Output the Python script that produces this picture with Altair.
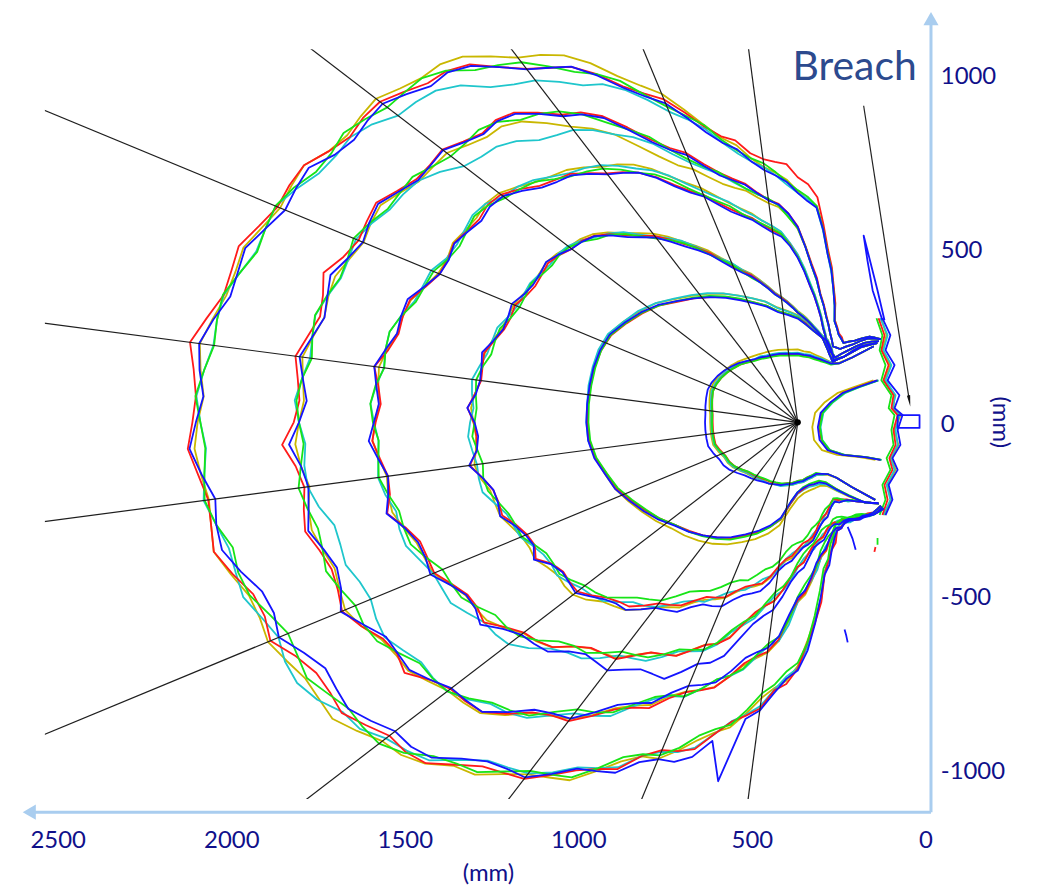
import math
import altair as alt
import pandas as pd

# ---------------- axes / layout values (mm) ----------------
X_DOMAIN = [-14, 2537]
Y_DOMAIN = [-1080, 1080]
X_TICKS = [0, 500, 1000, 1500, 2000, 2500]
Y_TICKS = [-1000, -500, 0, 500, 1000]

# centre of the ray fan (mm)
CENTER_X, CENTER_Y = 368, 5
RAY_ANGLES = [-82.5, -67.5, -52.5, -37.5, -22.5, -7.5, 7.5, 22.5, 37.5, 52.5, 67.5, 82.5]
RAY_LENGTH = 4000

# angle grid (deg, 0 = towards +x, 90 = up) on which the contour radii were read
ANGLES = [-135, -130, -125, -120, -115, -110, -105, -100, -95, -90, -85,
          -80, -75, -70, -65, -60, -55, -50, -45, -40, -35, -30,
          -25, -20, -15, -10, -5, 0, 5, 10, 15, 20, 25,
          30, 35, 40, 45, 50, 55, 60, 65, 70, 75, 80,
          85, 90, 95, 100, 105, 110, 115, 120, 125, 130, 135]

# base radius (mm) of each contour group, measured from the fan centre
BASE = {
    1: [316, 244, 195, 172, 164, 158, 161, 164, 170, 172, 178,
        181, 187, 190, 195, 198, 204, 210, 216, 227, 239, 247,
        250, 259, 267, 267, 267, 267, 267, 270, 273, 276, 273,
        267, 259, 250, 241, 230, 221, 216, 210, 207, 204, 201,
        198, 198, 195, 195, 193, 193, 193, 195, 207, 244, 310],
    2: [331, 302, 259, 224, 195, 184, 184, 184, 190, 201, 230,
        279, 308, 333, 356, 382, 405, 425, 445, 463, 489, 512,
        535, 560, 575, 595, 606, 609, 609, 609, 609, 606, 598,
        575, 552, 526, 494, 466, 440, 414, 388, 365, 345, 322,
        310, 299, 282, 267, 256, 250, 230, 207, 230, 282, 325],
    3: [328, 299, 276, 259, 247, 262, 282, 310, 339, 362, 391,
        445, 480, 509, 549, 583, 632, 681, 724, 770, 799, 816,
        839, 868, 897, 925, 931, 934, 934, 925, 908, 885, 868,
        854, 839, 810, 762, 696, 638, 575, 512, 460, 417, 374,
        345, 316, 296, 276, 259, 236, 216, 201, 230, 287, 322],
    4: [339, 339, 328, 316, 305, 302, 316, 339, 368, 408, 474,
        526, 589, 667, 713, 762, 810, 862, 908, 977, 1029, 1069,
        1106, 1144, 1178, 1201, 1213, 1221, 1216, 1201, 1178, 1141, 1109,
        1098, 1086, 1040, 983, 934, 877, 813, 733, 670, 618, 575,
        540, 474, 397, 336, 282, 244, 224, 216, 253, 299, 331],
    5: [345, 345, 331, 322, 316, 319, 345, 382, 445, 503, 618,
        675, 747, 810, 862, 934, 1020, 1092, 1178, 1242, 1288, 1328,
        1380, 1400, 1414, 1431, 1437, 1437, 1434, 1423, 1408, 1385, 1365,
        1328, 1288, 1250, 1221, 1155, 1078, 969, 862, 782, 719, 667,
        627, 560, 454, 374, 316, 273, 241, 244, 273, 316, 339],
    6: [351, 345, 325, 316, 310, 322, 368, 431, 560, 690, 753,
        833, 905, 986, 1040, 1135, 1221, 1293, 1365, 1451, 1500, 1538,
        1575, 1609, 1661, 1696, 1716, 1724, 1722, 1704, 1667, 1632, 1598,
        1546, 1517, 1471, 1423, 1331, 1242, 1150, 1035, 934, 833, 762,
        713, 661, 621, 494, 397, 310, 279, 264, 287, 322, 339],
}

# per-run deviation (mm) from the base radius at the grid angles; a missing run follows the base
DEV = {
    1: {
        "yellow": [0, 0, 0, 3, 3, 3, 3, 3, 3, 3, 3, 3, 0, 0, 0, -3, -5, -6, -8, -10, -12, -14,
                   -15, -15, -15, -15, -15, -15, -14, -12, -10, -8, -5, -3, 0, 3, 5, 8, 10, 10, 12, 12, 12, 12,
                   12, 12, 10, 10, 8, 6, 5, 3, 3, 0, 0],
        "cyan": [0, 0, 0, 0, 3, 3, 3, 3, 3, 3, 3, 3, 3, 0, 0, -3, -6, -8, -10, -12, -14, -16,
                 -17, -18, -18, -18, -18, -18, -17, -16, -14, -12, -10, -8, -6, -4, -2, 0, 0, 3, 3, 3, 3, 3,
                 3, 3, 3, 3, 3, 3, 3, 3, 0, 0, 0],
        "red": [0, 0, 0, 0, 0, 0, -3, -3, -3, -3, -3, -3, -3, -5, -6, -8, -10, -12, -14, -16, -18, -20,
                -21, -22, -22, -22, -22, -22, -21, -20, -18, -16, -14, -12, -10, -8, -6, -5, -3, -3, -3, -3, -3, -3,
                -3, -3, -3, -3, -3, -3, 0, 0, 0, 0, 0],
        "green": [0, 0, 0, 0, 0, -3, -3, -3, -3, -3, -3, -3, -5, -6, -8, -10, -12, -14, -15, -16, -18, -19,
                  -20, -20, -20, -20, -20, -20, -20, -19, -18, -16, -14, -12, -10, -8, -6, -5, -5, -5, -5, -5, -5, -5,
                  -5, -5, -5, -5, -5, -5, -3, -3, 0, 0, 0],
    },
    2: {
        "yellow": [0, 0, 3, 5, 8, 10, 12, 15, 15, 18, 20, 22, 24, 25, 25, 24, 22, 20, 16, 12, 8, 5,
                   3, 0, 0, -3, -3, -3, -3, 0, 0, 3, 3, 5, 5, 8, 8, 10, 12, 14, 15, 15, 15, 14,
                   12, 10, 8, 6, 5, 3, 3, 3, 0, 0, 0],
        "cyan": [0, 0, 0, 3, 3, 5, 5, 5, 5, 5, 5, 5, 5, 5, 3, 3, 3, 0, 0, -3, -3, -5,
                 -5, -5, -3, -3, 0, 0, 0, 3, 3, 5, 5, 5, 8, 8, 10, 12, 14, 15, 15, 15, 15, 12,
                 10, 8, 6, 5, 5, 3, 3, 3, 0, 0, 0],
        "red": [0, 0, 0, -3, -3, -3, 0, 0, 3, 3, 5, 5, 5, 5, 3, 3, 0, 0, -3, -3, -5, -5,
                -5, -5, -5, -3, -3, -3, -3, -3, -3, -3, -5, -5, -5, -3, -3, 0, 0, 3, 3, 3, 3, 3,
                3, 3, 3, 0, 0, 0, 0, 0, 0, 0, 0],
        "green": [0, 0, -3, -3, -5, -5, -5, -3, -3, 0, 0, 3, 5, 8, 8, 8, 5, 3, 0, -3, -5, -8,
                  -8, -8, -6, -6, -6, -6, -5, -5, -5, -3, -3, -3, -3, -3, 0, 3, 5, 5, 5, 3, 3, 3,
                  3, 3, 0, 0, 0, 0, 0, 0, 0, 0, 0],
    },
    3: {
        "yellow": [0, 0, 0, 3, 5, 8, 10, 10, 10, 10, 10, 10, 10, 12, 14, 16, 18, 22, 25, 25, 22, 18,
                   14, 10, 6, 3, 0, 0, 0, 0, 3, 3, 5, 5, 8, 10, 12, 15, 15, 12, 10, 8, 8, 6,
                   5, 5, 5, 3, 3, 3, 3, 0, 0, 0, 0],
        "cyan": [0, 0, 0, 0, 3, 3, 5, 5, 5, 5, 5, 5, 5, 8, 8, 10, 10, 8, 8, 5, 5, 3,
                 3, 3, 6, 8, 10, 10, 8, 6, 3, 3, 3, 3, 5, 5, 8, 10, 10, 10, 8, 8, 6, 5,
                 5, 3, 3, 3, 3, 0, 0, 0, 0, 0, 0],
        "red": [0, 0, 0, -3, -3, 0, 0, 3, 3, 3, 5, 5, 5, 8, 8, 10, 10, 8, 6, 5, 3, 0,
                -3, -5, -5, -3, -3, 0, 0, -3, -3, -5, -5, -3, 0, 3, 5, 5, 5, 5, 3, 3, 3, 3,
                3, 0, 0, 0, 0, 0, 0, 0, 0, 0, 0],
        "green": [0, 0, -3, -3, -5, -5, -8, -10, -12, -15, -18, -22, -25, -25, -25, -22, -20, -15, -10, -8, -5, -3,
                  -3, -3, -5, -5, -5, -3, -3, -3, -5, -5, -3, -3, 0, 0, 3, 3, 3, 3, 3, 0, 0, 0,
                  0, 0, 0, 0, 0, 0, 0, 0, 0, 0, 0],
        "blue": [0, 0, 0, 3, 5, 8, 10, 12, 14, 16, 20, 25, 30, 35, 35, 32, 28, 22, 15, 10, 5, 3,
                 0, 0, -3, -3, -3, -3, -3, 0, 0, 3, 3, 3, 3, 0, 0, 0, -3, -3, -3, -3, 0, 0,
                 0, 0, 0, 0, 0, 0, 0, 0, 0, 0, 0],
    },
    4: {
        "yellow": [0, 0, 3, 5, 5, 5, 5, 8, 8, 10, 10, 10, 12, 12, 10, 10, 8, 8, 5, 5, 3, 3,
                   0, 0, -3, -3, -3, -3, -3, 0, 0, 3, 5, 8, 12, 15, 20, 25, 30, 30, 28, 25, 20, 15,
                   10, 8, 5, 5, 3, 3, 3, 0, 0, 0, 0],
        "cyan": [0, 0, 3, 3, 5, 5, 8, 8, 10, 10, 12, 12, 15, 15, 15, 18, 20, 25, 30, 35, 35, 30,
                 25, 15, 10, 5, 0, 0, 3, 5, 5, 8, 8, 10, 12, 15, 18, 22, 25, 25, 25, 22, 18, 15,
                 12, 10, 8, 5, 5, 3, 3, 0, 0, 0, 0],
        "red": [0, 0, 0, 3, 3, 5, 5, 5, 8, 8, 10, 10, 10, 12, 12, 10, 10, 8, 5, 3, 0, -3,
                -5, -8, -8, -8, -5, -5, -3, -3, 0, 0, 3, 3, 5, 5, 5, 3, 3, 3, 3, 3, 3, 3,
                3, 3, 0, 0, 0, 0, 0, 0, 0, 0, 0],
        "green": [0, 0, -3, -3, -5, -5, -5, -5, -5, -3, 0, 3, 5, 8, 10, 10, 8, 5, 3, 0, -3, -5,
                  -5, -5, -3, -3, 0, 3, 5, 5, 5, 3, 3, 3, 3, 5, 8, 10, 12, 12, 10, 8, 5, 5,
                  5, 3, 3, 3, 0, 0, 0, 0, 0, 0, 0],
        "blue": [0, 0, 3, 5, 8, 10, 15, 15, 20, 25, 30, 40, 55, 70, 80, 75, 60, 40, 25, 15, 8, 3,
                 0, -3, -5, -3, 0, 0, 3, 5, 5, 3, 0, 0, -3, -3, -3, 0, 0, 0, -3, -3, -3, -3,
                 -3, 0, 0, 0, 0, 0, 0, 0, 0, 0, 0],
    },
    5: {
        "yellow": [0, 0, 0, 3, 5, 8, 10, 12, 15, 15, 15, 15, 12, 10, 8, 8, 10, 12, 15, 15, 12, 10,
                   8, 5, 3, 0, 0, 0, -3, -5, -8, -10, -8, -5, -5, -8, -15, -30, -45, -50, -45, -30, -20, -10,
                   -5, -3, 0, 0, 0, 0, 0, 0, 0, 0, 0],
        "cyan": [0, 0, 0, 3, 3, 5, 8, 10, 12, 15, 15, 12, 10, 8, 8, 10, 12, 10, 5, 0, -5, -15,
                 -40, -57, -50, -30, -10, 0, 0, -3, -5, -8, -10, -15, -30, -60, -75, -75, -50, -20, -10, -5, -3, 0,
                 0, 0, 0, 0, 0, 0, 0, 0, 0, 0, 0],
        "red": [0, 0, 0, 3, 3, 5, 5, 8, 8, 10, 10, 10, 10, 12, 15, 15, 12, 10, 10, 8, 5, 5,
                8, 10, 12, 14, 15, 15, 12, 10, 8, 8, 5, 5, 5, 8, 10, 10, 12, 12, 10, 10, 8, 5,
                5, 5, 5, 3, 3, 0, 0, 0, 0, 0, 0],
        "green": [0, 0, -3, -3, -3, -5, -5, -5, -3, 0, 3, 5, 8, 8, 5, 3, 0, -3, -5, -5, -3, 0,
                  0, 3, 3, 3, 0, 0, 0, -3, -3, -5, -5, -5, -3, 0, 3, 5, 5, 5, 3, 0, 0, 0,
                  0, 0, 0, 0, 0, 0, 0, 0, 0, 0, 0],
        "blue": [0, 0, 3, 3, 5, 5, 5, 5, 3, 3, 0, -3, -5, -5, -3, 0, 0, 3, 3, 5, 5, 3,
                 0, 0, 0, 0, 0, 0, -3, -3, -5, -5, -3, 0, 3, 5, 5, 5, 5, 3, 3, 3, 3, 3,
                 3, 3, 0, 0, 0, 0, 0, 0, 0, 0, 0],
    },
    6: {
        "yellow": [0, 0, 3, 3, 5, 5, 8, 8, 10, 12, 15, 18, 20, 20, 22, 25, 28, 30, 35, 40, 50, 55,
                   50, 40, 30, 20, 10, 5, 5, 8, 10, 10, 12, 15, 20, 25, 35, 45, 50, 45, 35, 25, 15, 10,
                   8, 5, 5, 3, 3, 3, 0, 0, 0, 0, 0],
        "cyan": [0, 0, 0, 3, 5, 8, 10, 12, 15, 18, 20, 22, 25, 25, 20, 15, 10, 5, 10, 20, 40, 60,
                 55, 35, 15, 5, 0, -3, -5, -5, -3, 0, -5, -10, -20, -35, -50, -60, -45, -25, -10, -5, 0, 0,
                 0, 0, 0, 0, 0, 0, 0, 0, 0, 0, 0],
        "red": [0, 0, 3, 5, 8, 10, 12, 15, 18, 20, 22, 25, 25, 22, 20, 18, 20, 25, 30, 25, 20, 18,
                20, 25, 25, 20, 18, 20, 25, 25, 22, 20, 18, 15, 12, 10, 8, 5, 5, 8, 10, 15, 20, 25,
                40, 45, 30, 10, 5, 3, 3, 0, 0, 0, 0],
        "green": [0, 0, -3, -3, -5, -5, -5, -3, 0, 3, 5, 8, 10, 12, 15, 15, 18, 20, 25, 30, 30, 25,
                  15, 10, 8, 5, 0, -3, -5, -5, -3, 0, 3, 5, 5, 8, 10, 12, 10, 8, 5, 5, 8, 10,
                  10, 8, 5, 3, 0, 0, 0, 0, 0, 0, 0],
        "blue": [0, 0, 3, 5, 8, 10, 12, 15, 20, 25, 30, 35, 45, 55, 40, 25, 15, 10, 5, 3, 0, -3,
                 -5, -3, 0, 5, 8, 10, 8, 5, 3, 0, -3, -5, -3, 0, 3, 5, 5, 3, 0, 0, 0, 0,
                 0, 0, 0, 0, 0, 0, 0, 0, 0, 0, 0],
    },
}

# jagged excursions (mm) read half-way between neighbouring grid angles
TEETH = {
    3: {
        "yellow": [0, 0, 0, 3, -3, 3, -3, 3, -3, 5, -5, 5, -5, 5, -5, 8, -5, 8, -8, 8,
                   -8, 10, -5, 8, -8, 10, -5, 8, -8, 5, -5, 5, -5, 5, -3, 5, -3, 3, -3, 3,
                   0, 3, 0, 0, 0, 0, 0, 0, 0, 0, 0, 0, 0, 0],
        "cyan": [0, 0, 3, -3, 3, -3, 3, -3, 5, -3, 5, -5, 5, -5, 8, -5, 5, -8, 8, -5,
                 10, -5, 8, -8, 12, -5, 8, -8, 10, -5, 8, -5, 5, -5, 5, -3, 5, -3, 3, -3,
                 3, 0, 0, 0, 0, 0, 0, 0, 0, 0, 0, 0, 0, 0],
        "red": [0, 0, -3, 3, -3, 3, -5, 5, -5, 5, -5, 8, -5, 8, -8, 8, -8, 10, -5, 12,
                -8, 25, -5, 15, -8, 28, -5, 18, -8, 12, -5, 10, -5, 8, -5, 5, -3, 5, -3, 3,
                -3, 3, 0, 0, 0, 0, 0, 0, 0, 0, 0, 0, 0, 0],
        "green": [0, 0, 3, -3, 3, -3, 3, -5, 5, -5, 5, -5, 8, -5, 5, -8, 8, -5, 8, -5,
                  10, -8, 10, -5, 8, -8, 10, -5, 8, -8, 8, -5, 8, -5, 5, -5, 3, -3, 3, -3,
                  3, -3, 0, 0, 0, 0, 0, 0, 0, 0, 0, 0, 0, 0],
        "blue": [0, 0, -3, 3, -3, 5, -3, 5, -5, 5, -8, 8, -5, 10, -8, 10, -8, 12, -5, 15,
                 -8, 28, -5, 18, -10, 30, -8, 22, -5, 15, -8, 12, -5, 10, -5, 8, -5, 5, -3, 3,
                 -3, 3, 0, 0, 0, 0, 0, 0, 0, 0, 0, 0, 0, 0],
    },
    4: {
        "yellow": [0, 0, 3, -3, 3, -3, 5, -5, 5, -5, 8, -5, 8, -8, 10, -8, 10, -8, 12, -10,
                   10, -10, 12, -8, 10, -10, 12, -8, 10, -8, 8, -8, 10, -5, 8, -5, 5, -5, 5, -3,
                   3, -3, 3, 0, 0, 0, 0, 0, 0, 0, 0, 0, 0, 0],
        "cyan": [0, 3, -3, 3, -3, 3, -5, 5, -5, 5, -8, 8, -10, 8, -10, 10, -12, 10, -10, 12,
                 -10, 12, -8, 10, -12, 10, -8, 12, -10, 10, -8, 10, -5, 8, -8, 5, -5, 5, -3, 3,
                 -3, 3, 0, 0, 0, 0, 0, 0, 0, 0, 0, 0, 0, 0],
        "red": [0, -3, 3, -3, 5, -5, 5, -5, 8, -5, 10, -8, 12, -8, 10, -10, 15, -10, 12, -10,
                25, -10, 15, -12, 30, -10, 15, -12, 25, -10, 12, -10, 10, -8, 10, -8, 8, -5, 5, -5,
                5, -3, 3, -3, 3, 0, 0, 0, 0, 0, 0, 0, 0, 0],
        "green": [0, 3, -3, 3, -3, 5, -5, 3, -5, 5, -8, 10, -8, 10, -10, 8, -10, 12, -10, 10,
                  -12, 10, -12, 12, -10, 12, -10, 10, -12, 10, -10, 8, -8, 10, -5, 8, -5, 5, -5, 3,
                  -3, 3, -3, 0, 0, 0, 0, 0, 0, 0, 0, 0, 0, 0],
        "blue": [0, 0, 3, -3, 5, -5, 5, -8, 8, -8, 10, -10, 15, -12, 18, -10, 15, -12, 15, -10,
                 30, -12, 22, -10, 28, -15, 20, -12, 18, -12, 15, -10, 12, -10, 10, -8, 8, -5, 8, -5,
                 5, -5, 3, -3, 3, 0, 0, 0, 0, 0, 0, 0, 0, 0],
    },
    5: {
        "yellow": [0, 0, 3, -3, 3, -5, 5, -3, 8, -5, 8, -8, 10, -5, 12, -10, 10, -12, 15, -8,
                   12, -10, 15, -12, 10, -15, 12, -10, 15, -12, 10, -12, 15, -10, 12, -8, 10, -5, 8, -5,
                   5, -5, 5, -3, 3, 0, 3, 0, 0, 0, 0, 0, 0, 0],
        "cyan": [0, 3, -3, 3, -3, 5, -5, 5, -5, 8, -10, 8, -10, 12, -8, 15, -10, 12, -12, 10,
                 -12, 15, -10, 12, -15, 10, -12, 15, -10, 12, -10, 12, -8, 10, -12, 8, -10, 8, -5, 5,
                 -5, 3, -3, 3, 0, 0, 0, 0, 0, 0, 0, 0, 0, 0],
        "red": [0, -3, 3, -5, 5, -3, 8, -5, 8, -8, 10, -10, 12, -8, 15, -10, 18, -12, 15, -10,
                30, -12, 22, -10, 18, -15, 35, -12, 20, -15, 28, -12, 18, -10, 15, -12, 12, -10, 10, -8,
                8, -5, 5, -5, 3, -3, 3, 0, 0, 0, 0, 0, 0, 0],
        "green": [0, 3, -3, 3, -5, 5, -3, 8, -5, 5, -8, 10, -10, 12, -10, 12, -12, 15, -10, 12,
                  -15, 12, -12, 15, -10, 15, -12, 10, -15, 12, -10, 15, -10, 12, -8, 10, -10, 8, -5, 8,
                  -5, 5, -3, 3, -3, 0, 0, 0, 0, 0, 0, 0, 0, 0],
        "blue": [0, 0, 3, -3, 5, -5, 5, -8, 8, -8, 10, -12, 12, -10, 15, -12, 18, -15, 20, -12,
                 15, -18, 35, -15, 22, -12, 30, -18, 22, -15, 20, -15, 18, -12, 15, -12, 12, -10, 12, -8,
                 8, -8, 5, -5, 5, -3, 3, 0, 0, 0, 0, 0, 0, 0],
    },
    6: {
        "yellow": [0, 0, 3, -3, 5, -3, 5, 8, -5, 10, -8, 12, -5, 15, -10, 18, -8, 15, 10, -12,
                   18, -10, 15, -12, 20, -10, 12, -15, 18, -8, 15, -12, 18, -10, 15, -8, 12, -10, 10, -8,
                   10, -5, 8, -5, 5, -3, 3, 0, 3, 0, 0, 3, 0, 0],
        "cyan": [0, 3, -3, 3, -5, 5, -3, 8, 5, -8, 10, -10, 12, -8, 15, -12, 10, -15, 18, -10,
                 -15, 12, -18, 15, -10, 18, -12, 15, -10, 12, -12, 15, -10, 12, -15, 10, -12, 8, -10, 5,
                 -8, 5, -5, 3, -3, 3, 0, 0, 0, 0, 0, 0, 0, 0],
        "red": [0, -3, 3, -3, 5, 8, -5, 10, -8, 12, 15, -10, 18, -12, 20, -8, 15, -12, 18, -15,
                20, -12, 30, -15, 22, -12, 20, -10, 28, -15, 18, -12, 15, -15, 12, -10, 15, -8, 12, -10,
                10, -8, 12, -5, 15, 8, -5, 3, 3, 0, 3, 0, 0, 0],
        "green": [0, 3, -3, 5, -3, 3, 8, -5, 10, -8, -12, 15, -10, 12, -15, 18, -10, 15, -12, 15,
                  -12, 18, -15, 12, -18, 15, -10, 18, -12, 15, -15, 12, -12, 15, -10, 12, -12, 10, -8, 10,
                  -5, 8, -5, 5, -3, 3, 0, 3, 0, 0, 0, 0, 0, 0],
        "blue": [0, 0, 3, -3, 5, -5, 8, -5, 10, -10, 12, 150, 15, -10, 18, -15, 20, -12, 18, -15,
                 18, -18, 30, -15, 18, -20, 25, -18, 20, -15, 18, -15, 20, -12, 15, -15, 12, -10, 15, -8,
                 10, -8, 8, -5, 5, -3, 3, 3, 0, 0, 0, 0, 0, 0],
    },
}

# breach-side traces (mm)
U_Y = [126, 106, 89, 63, 32, -9, -46, -75, -89, -95, -103]
U_X = {
    "yellow": [150, 208, 254, 290, 318, 326, 321, 298, 254, 190, 144],
    "cyan": [135, 190, 232, 266, 294, 302, 297, 275, 232, 170, 126],
    "red": [140, 197, 240, 272, 299, 306, 300, 278, 236, 172, 130],
    "green": [136, 192, 235, 268, 296, 304, 298, 276, 234, 171, 127],
    "blue": [138, 195, 239, 273, 302, 310, 305, 282, 239, 175, 129],
}
BAND_Y = [305, 256, 213, 170, 126, 83, 46, 26, -17, -60, -98, -132, -175, -218, -262]
BAND_X = {
    "yellow": [127, 112, 124, 101, 118, 89, 92, 72, 89, 78, 98, 86, 109, 98, 118],
    "cyan": [130, 109, 121, 98, 115, 86, 95, 75, 86, 80, 101, 89, 112, 101, 121],
    "red": [135, 118, 127, 106, 121, 92, 98, 80, 92, 86, 104, 95, 118, 109, 124],
    "green": [141, 124, 132, 115, 127, 98, 106, 89, 98, 92, 112, 101, 124, 115, 132],
    "blue": [124, 101, 115, 89, 109, 75, 89, 66, 80, 72, 95, 80, 106, 95, 115],
}
EXTRA_TRACES = [
    ("opening", "blue", [80, 17, 17, 80, 80], [26, 26, -11, -11, 26]),
    ("spike", "blue", [124, 152, 167, 178, 167, 138, 118], [299, 385, 471, 543, 500, 385, 299]),
    ("blob1", "blue", [224, 210, 201], [-296, -330, -362]),
    ("blob2", "blue", [233, 228, 224], [-592, -610, -629]),
    ("blob3", "green", [138, 138], [-328, -348]),
    ("blob4", "red", [144, 147], [-354, -368]),
]

# annotations (mm)
BREACH_LABEL = (204, 1026)
BREACH_ARROW = [(178, 917), (47, 72)]
X_TITLE_POS = (1259, -1296)
Y_TITLE_POS = (-216, 5)
AXIS_Y_LINE = -1118
AXIS_X_LINE = -16
AXIS_X_END = 2582
AXIS_Y_END = 1168

COLORS = {"yellow": "#c9b700", "cyan": "#1fc6cc", "red": "#ff1a1a",
          "green": "#17e417", "blue": "#1414ff"}
DRAW_ORDER = ["yellow", "cyan", "red", "green", "blue"]
NAVY = "#10108a"
AXIS_COLOR = "#a9cdef"

# ---------------- build tables ----------------
for g, base in BASE.items():
    assert len(base) == len(ANGLES), (g, len(base))
    for c, d in DEV[g].items():
        assert len(d) == len(ANGLES), (g, c, len(d))
for g, tt in TEETH.items():
    for c, t in tt.items():
        assert len(t) == len(ANGLES) - 1, (g, c, len(t))


def polar(r, a):
    t = math.radians(a)
    return CENTER_X + r * math.cos(t), CENTER_Y + r * math.sin(t)


rows = []
for g, base in BASE.items():
    for c in DRAW_ORDER:
        dev = DEV[g].get(c)
        teeth = TEETH.get(g, {}).get(c)
        radii = [rb + (dev[i] if dev else 0) for i, rb in enumerate(base)]
        k = 0
        for i, a in enumerate(ANGLES):
            x, y = polar(radii[i], a)
            rows.append({"line": f"g{g}-{c}", "color": c, "i": k, "x": x, "y": y})
            k += 1
            if teeth and i < len(ANGLES) - 1:
                am = (a + ANGLES[i + 1]) / 2
                rm = (radii[i] + radii[i + 1]) / 2 + teeth[i]
                x, y = polar(rm, am)
                rows.append({"line": f"g{g}-{c}", "color": c, "i": k, "x": x, "y": y})
                k += 1
for c in DRAW_ORDER:
    for i, (x, y) in enumerate(zip(U_X[c], U_Y)):
        rows.append({"line": f"u-{c}", "color": c, "i": i, "x": x, "y": y})
    for i, (x, y) in enumerate(zip(BAND_X[c], BAND_Y)):
        rows.append({"line": f"band-{c}", "color": c, "i": i, "x": x, "y": y})
for name, c, xs, ys in EXTRA_TRACES:
    for i, (x, y) in enumerate(zip(xs, ys)):
        rows.append({"line": name, "color": c, "i": i, "x": x, "y": y})
traces = pd.DataFrame(rows)

rays = pd.DataFrame([{"x": CENTER_X, "y": CENTER_Y,
                      "x2": polar(RAY_LENGTH, a)[0], "y2": polar(RAY_LENGTH, a)[1]} for a in RAY_ANGLES])

x_enc = alt.X("x:Q", title=None,
              scale=alt.Scale(domain=X_DOMAIN, reverse=True, nice=False, zero=False),
              axis=alt.Axis(values=X_TICKS, grid=False, domain=False, ticks=False,
                            labelFont="Lato", labelFontSize=24, labelColor=NAVY,
                            labelPadding=42, labelBaseline="middle", labelFlush=False,
                            labelExpr="'' + datum.value"))
y_enc = alt.Y("y:Q", title=None,
              scale=alt.Scale(domain=Y_DOMAIN, nice=False, zero=False),
              axis=alt.Axis(orient="right", values=Y_TICKS, grid=False, domain=False, ticks=False,
                            labelFont="Lato", labelFontSize=24, labelColor=NAVY,
                            labelPadding=10, labelAlign="left", labelFlush=False,
                            labelExpr="'' + datum.value"))

layers = []
for c in DRAW_ORDER:
    layers.append(
        alt.Chart(traces).transform_filter(alt.datum.color == c)
        .mark_line(clip=True, color=COLORS[c], strokeWidth=1.8, strokeJoin="round")
        .encode(x=x_enc, y=y_enc, detail="line:N", order="i:Q")
    )

layers.append(
    alt.Chart(rays).mark_rule(clip=True, color="#1e1e1e", strokeWidth=1.2)
    .encode(x=x_enc, y=y_enc, x2="x2:Q", y2="y2:Q")
)
layers.append(
    alt.Chart(pd.DataFrame({"x": [CENTER_X], "y": [CENTER_Y]}))
    .mark_point(filled=True, color="black", size=40, opacity=1)
    .encode(x=x_enc, y=y_enc)
)

# Breach annotation
arrow = pd.DataFrame({"x": [BREACH_ARROW[0][0]], "y": [BREACH_ARROW[0][1]],
                      "x2": [BREACH_ARROW[1][0]], "y2": [BREACH_ARROW[1][1]]})
layers.append(alt.Chart(arrow).mark_rule(color="#222222", strokeWidth=1.2, clip=False)
              .encode(x=x_enc, y=y_enc, x2="x2:Q", y2="y2:Q"))
layers.append(alt.Chart(pd.DataFrame({"x": [BREACH_ARROW[1][0]], "y": [BREACH_ARROW[1][1]]}))
              .mark_point(shape="wedge", angle=171, filled=True, color="#111111", size=170, opacity=1, clip=False)
              .encode(x=x_enc, y=y_enc))
layers.append(alt.Chart(pd.DataFrame({"x": [BREACH_LABEL[0]], "y": [BREACH_LABEL[1]]}))
              .mark_text(text="Breach", font="Lato", fontSize=41, color="#2c4a8e",
                         align="center", baseline="middle", clip=False)
              .encode(x=x_enc, y=y_enc))

# axis lines with arrow heads
axis_lines = pd.DataFrame({"x": [AXIS_X_END, AXIS_X_LINE], "y": [AXIS_Y_LINE, AXIS_Y_LINE],
                           "x2": [AXIS_X_LINE, AXIS_X_LINE], "y2": [AXIS_Y_LINE, AXIS_Y_END]})
layers.append(alt.Chart(axis_lines).mark_rule(color=AXIS_COLOR, strokeWidth=3, clip=False)
              .encode(x=x_enc, y=y_enc, x2="x2:Q", y2="y2:Q"))
layers.append(alt.Chart(pd.DataFrame({"x": [AXIS_X_END], "y": [AXIS_Y_LINE]}))
              .mark_point(shape="triangle-left", filled=True, color=AXIS_COLOR, size=230, opacity=1, clip=False)
              .encode(x=x_enc, y=y_enc))
layers.append(alt.Chart(pd.DataFrame({"x": [AXIS_X_LINE], "y": [AXIS_Y_END]}))
              .mark_point(shape="triangle-up", filled=True, color=AXIS_COLOR, size=230, opacity=1, clip=False)
              .encode(x=x_enc, y=y_enc))

# axis titles
layers.append(alt.Chart(pd.DataFrame({"x": [X_TITLE_POS[0]], "y": [X_TITLE_POS[1]]}))
              .mark_text(text="(mm)", font="Lato", fontSize=24, color=NAVY,
                         align="center", baseline="middle", clip=False)
              .encode(x=x_enc, y=y_enc))
layers.append(alt.Chart(pd.DataFrame({"x": [Y_TITLE_POS[0]], "y": [Y_TITLE_POS[1]]}))
              .mark_text(text="(mm)", font="Lato", fontSize=24, color=NAVY, angle=90,
                         align="center", baseline="middle", clip=False)
              .encode(x=x_enc, y=y_enc))

chart = alt.layer(*layers).properties(
    width=888, height=752,
    autosize=alt.AutoSizeParams(type="none"),
    padding={"left": 37, "top": 40, "right": 100, "bottom": 90},
).configure_view(stroke="transparent")

chart.save("out.html", embed_options={"renderer": "svg", "actions": False})
